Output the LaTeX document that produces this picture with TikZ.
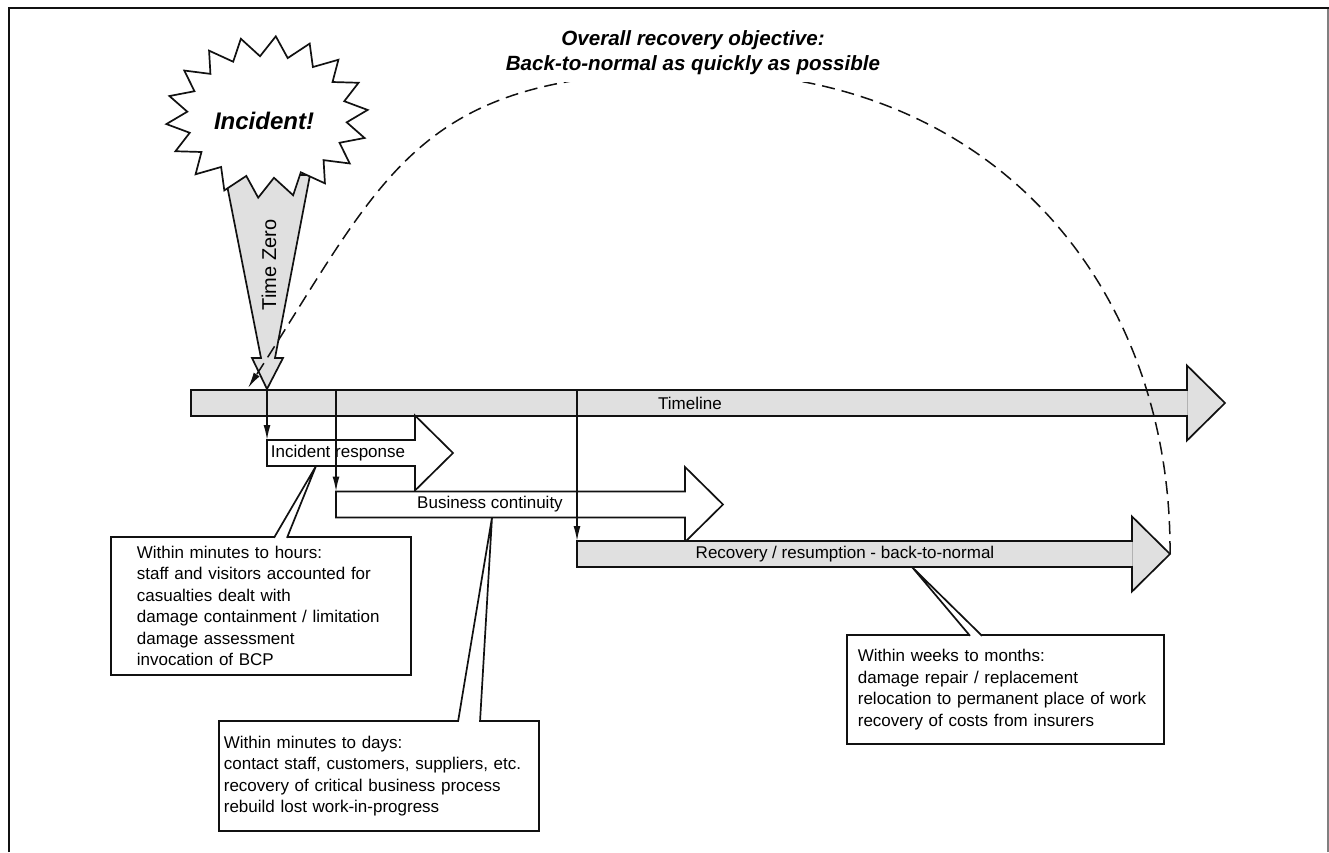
\documentclass[tikz,border=0pt]{standalone}
\usepackage{fontspec}
\setmainfont{Liberation Sans}
\usetikzlibrary{arrows.meta}
\definecolor{barfill}{HTML}{E0E0E0}
\definecolor{ink}{HTML}{111111}
\newcommand{\blockarrow}[4]{%
  \draw[fill=#1] (#2,#4-13) -- (#3-38,#4-13) -- (#3-38,#4-37.5) -- (#3,#4)
    -- (#3-38,#4+37.5) -- (#3-38,#4+13) -- (#2,#4+13) -- cycle;}
\begin{document}
\begin{tikzpicture}[
      x=1pt, y=-1pt,
      line width=1.7pt, draw=ink,
      barlabel/.style={font=\fontsize{17}{21.5}\selectfont, inner sep=0pt},
      note/.style={draw=ink, fill=white, anchor=north west, align=left,
        inner ysep=0pt, font=\fontsize{17}{21.5}\selectfont},
      pointer/.style={draw=ink, fill=white, line join=miter},
      drop/.style={-{Latex[length=15pt,width=7pt]}, line width=1.5pt},
      objective/.style={dash pattern=on 13pt off 7pt, line width=1.5pt,
        -{Latex[length=16pt,width=7pt]}},
    ]
    \useasboundingbox (0,0) rectangle (1329,852);
    \draw[line width=2.4pt] (9,852) -- (9,8) -- (1329,8);
    \draw[line width=1.5pt, gray] (1328,9) -- (1328,852);

    \blockarrow{barfill}{191}{1225}{403}
    \draw[line width=0.6pt, gray!60] (1187,391) -- (1187,415);
    \node[barlabel] (timeline) at (690,403) {Timeline};

    \coordinate (tz-tip) at (267,389);
    \draw[fill=barfill, line join=miter] (225,175) -- (261,358) -- (252,358) -- (tz-tip)
      -- (283,358) -- (275,358) -- (310,175) -- cycle;
    \draw[fill=white, line join=miter] plot[variable=\k, samples at={0,...,35}]
      ({267+ifthenelse(mod(\k,2)==0,101,80)*cos(\k*10-85)},
       {117+ifthenelse(mod(\k,2)==0,81,61)*sin(\k*10-85)}) -- cycle;
    \node[font=\fontsize{24}{24}\selectfont\bfseries\itshape] (incident) at (264,121) {Incident!};
    \node[rotate=90, font=\fontsize{20}{20}\selectfont] (time-zero) at (269,265) {Time Zero};

    \blockarrow{white}{267}{453}{453}
    \node[barlabel] (ir) at (338,453) {Incident response};
    \blockarrow{white}{336}{723}{504.5}
    \node[barlabel] (bc) at (490,504.5) {Business continuity};
    \blockarrow{barfill}{577}{1170}{554}
    \draw[line width=0.6pt, gray!60] (1132,542) -- (1132,566);
    \node[barlabel] (rc) at (845,554) {Recovery / resumption - back-to-normal};

    \coordinate (ir-start) at (267,440);
    \coordinate (bc-mark) at (336,390);
    \coordinate (bc-start) at (336,491.5);
    \coordinate (rc-mark) at (577,390);
    \coordinate (rc-start) at (577,541);
    \draw[drop] (tz-tip) -- (ir-start);
    \draw[drop] (bc-mark) -- (bc-start);
    \draw[drop] (rc-mark) -- (rc-start);

    \node[note, minimum width=300pt, minimum height=138pt, text width=248pt, inner xsep=26pt]
      (minutes-hours) at (110,536) {Within minutes to hours:\\
      staff and visitors accounted for\\
      casualties dealt with\\
      damage containment / limitation\\
      damage assessment\\
      invocation of BCP};
    \node[note, minimum width=320pt, minimum height=110pt, text width=310pt, inner xsep=5pt]
      (minutes-days) at (218,720) {Within minutes to days:\\
      contact staff, customers, suppliers, etc.\\
      recovery of critical business process\\
      rebuild lost work-in-progress};
    \node[note, minimum width=317pt, minimum height=109pt, text width=295pt, inner xsep=11pt]
      (weeks-months) at (846,634) {Within weeks to months:\\
      damage repair / replacement\\
      relocation to permanent place of work\\
      recovery of costs from insurers};

    \coordinate (ir-foot) at (316,466);
    \coordinate (bc-foot) at (492,517.5);
    \coordinate (rc-foot) at (912,567);
    \draw[pointer] ([xshift=164pt,yshift=-1.8pt]minutes-hours.north west) -- (ir-foot)
      -- ([xshift=177pt,yshift=-1.8pt]minutes-hours.north west);
    \draw[pointer] ([xshift=240pt,yshift=-1.8pt]minutes-days.north west) -- (bc-foot)
      -- ([xshift=262pt,yshift=-1.8pt]minutes-days.north west);
    \draw[pointer] ([xshift=124pt,yshift=-1.8pt]weeks-months.north west) -- (rc-foot)
      -- ([xshift=136pt,yshift=-1.8pt]weeks-months.north west);

    \coordinate (rc-tip) at (1170,554);
    \coordinate (peak) at (697,72);
    \coordinate (arc-end) at (248,388);
    \draw[objective] (rc-tip) .. controls (1172,293) and (1000,72) .. (peak)
      .. controls (417,72) and (388,170) .. (arc-end);

    \node[fill=white, align=center, inner xsep=2pt, inner ysep=7pt,
      font=\fontsize{20.6}{25}\selectfont\bfseries\itshape]
      (objective-title) at (693,53) {Overall recovery objective:\\Back-to-normal as quickly as possible};
  \end{tikzpicture}
\end{document}
